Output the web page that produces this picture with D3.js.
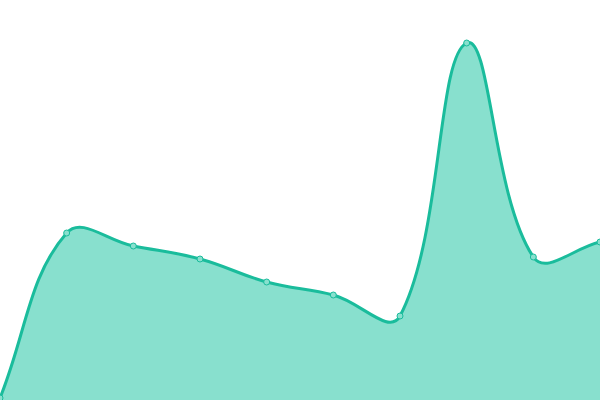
<!DOCTYPE html>
<html>
<head>
<meta charset="utf-8">
<script src="https://cdn.jsdelivr.net/npm/d3@7"></script>
<style>
  html, body { margin: 0; padding: 0; background: #fff; }
  svg { display: block; }
</style>
</head>
<body>
<svg id="chart" width="600" height="400"></svg>
<script>
const WIDTH = 600;
const HEIGHT = 400;

// one point per step
const steps = [0, 1, 2, 3, 4, 5, 6, 7, 8, 9];
const values = [2, 167, 154, 141, 118, 105, 84, 357, 143, 158];

const LINE_COLOR = '#1abc9c';
const FILL_COLOR = '#88e0ce';
const TENSION = 0.4;

// spline where each control point is pulled along (next - prev),
// weighted by the distance to the neighbours
function DistanceSpline(context, tension) {
  this._context = context;
  this._t = tension;
}

DistanceSpline.prototype = {
  areaStart() { this._line = 0; },
  areaEnd() { this._line = NaN; },
  lineStart() { this._x = []; this._y = []; },
  point(x, y) { this._x.push(+x); this._y.push(+y); },
  lineEnd() {
    const xs = this._x, ys = this._y, n = xs.length, ctx = this._context, t = this._t;
    if (n) {
      this._line ? ctx.lineTo(xs[0], ys[0]) : ctx.moveTo(xs[0], ys[0]);
      const prevCp = [], nextCp = [];
      for (let i = 0; i < n; i++) {
        const p = i > 0 ? i - 1 : i;
        const q = i < n - 1 ? i + 1 : i;
        const d01 = Math.hypot(xs[i] - xs[p], ys[i] - ys[p]);
        const d12 = Math.hypot(xs[q] - xs[i], ys[q] - ys[i]);
        let s01 = d01 / (d01 + d12), s12 = d12 / (d01 + d12);
        if (isNaN(s01)) s01 = 0;
        if (isNaN(s12)) s12 = 0;
        const fa = t * s01, fb = t * s12;
        const dx = xs[q] - xs[p], dy = ys[q] - ys[p];
        prevCp.push([xs[i] - fa * dx, ys[i] - fa * dy]);
        nextCp.push([xs[i] + fb * dx, ys[i] + fb * dy]);
      }
      for (let i = 1; i < n; i++) {
        ctx.bezierCurveTo(nextCp[i - 1][0], nextCp[i - 1][1], prevCp[i][0], prevCp[i][1], xs[i], ys[i]);
      }
    }
    if (this._line || (this._line !== 0 && n === 1)) ctx.closePath();
    this._line = 1 - this._line;
  }
};

const curve = context => new DistanceSpline(context, TENSION);

const svg = d3.select('#chart');

const xScale = d3.scaleLinear()
  .domain([0, steps.length - 1])
  .range([0, WIDTH]);

const yScale = d3.scaleLinear()
  .domain([0, 400])
  .range([HEIGHT, 0]);

const data = steps.map((s, i) => ({ x: s, y: values[i] }));

const area = d3.area()
  .x(d => xScale(d.x))
  .y0(HEIGHT)
  .y1(d => yScale(d.y))
  .curve(curve);

const line = d3.line()
  .x(d => xScale(d.x))
  .y(d => yScale(d.y))
  .curve(curve);

svg.append('path')
  .datum(data)
  .attr('fill', FILL_COLOR)
  .attr('d', area);

svg.append('path')
  .datum(data)
  .attr('fill', 'none')
  .attr('stroke', LINE_COLOR)
  .attr('stroke-width', 3)
  .attr('d', line);

svg.selectAll('circle.pt')
  .data(data)
  .join('circle')
  .attr('class', 'pt')
  .attr('cx', d => xScale(d.x))
  .attr('cy', d => yScale(d.y))
  .attr('r', 3)
  .attr('fill', FILL_COLOR)
  .attr('stroke', LINE_COLOR)
  .attr('stroke-width', 1);
</script>
</body>
</html>
